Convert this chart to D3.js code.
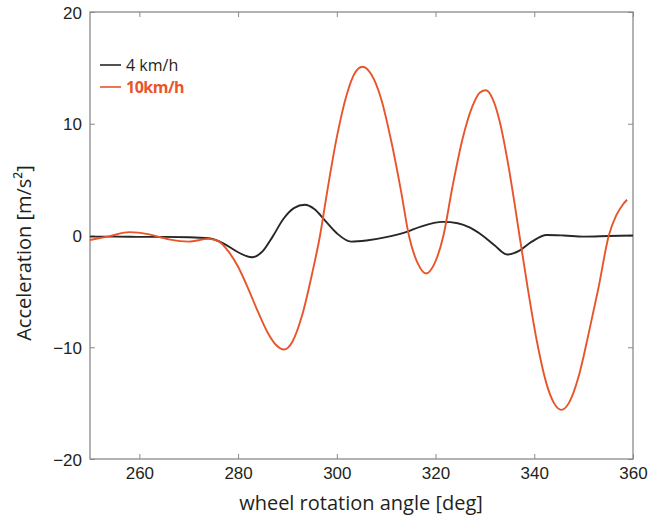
<!DOCTYPE html>
<html>
<head>
<meta charset="utf-8">
<script src="https://cdn.jsdelivr.net/npm/d3@7"></script>
<style>
  body { margin: 0; background: #fff; }
  svg { display: block; font-family: "Open Sans", sans-serif; }
  .tick text { fill: #231f20; font-size: 17px; }
  .tick line { stroke: #8a8a8a; }
</style>
</head>
<body>
<div id="chart"></div>
<script>
// wheel rotation angle [deg] / acceleration [m/s²]
const angle4 = [250, 255, 260, 265, 270, 274, 277, 280, 282.8, 285, 287, 289.2, 291.3,
  293.5, 295.5, 297.5, 300, 302.9, 306, 310, 314, 317, 321.5, 324.5, 327, 329.5,
  332, 334.5, 337, 339.5, 342.5, 346, 350, 355, 360];
const accel4 = [-0.1, -0.1, -0.12, -0.12, -0.15, -0.25, -0.7, -1.5, -1.95, -1.4, -0.1, 1.5, 2.45,
  2.75, 2.35, 1.4, 0.2, -0.55, -0.45, -0.15, 0.3, 0.8, 1.22, 1.1, 0.7, 0.0,
  -0.9, -1.7, -1.35, -0.55, 0.05, 0.0, -0.1, -0.05, 0.0];

const angle10 = [250, 254, 258, 262, 266, 270, 274, 276, 278, 280, 282, 284, 286, 287.7,
  289.3, 291, 293, 295, 296.6, 298, 300, 302, 303.6, 305.2, 307, 309, 311, 313, 314.6,
  316.4, 318.1, 319.8, 321.6, 323.4, 325.5, 327.5, 329, 330.2, 331.5, 333, 334.5, 336, 337,
  338.6, 340.5, 342.5, 344, 345.5, 347, 349, 351, 353, 355.1, 356.6, 358, 358.8];
const accel10 = [-0.4, -0.05, 0.3, 0.1, -0.35, -0.55, -0.3, -0.5, -1.4, -2.8, -4.7, -6.8, -8.7, -9.8,
  -10.2, -9.5, -7.1, -3.4, 0, 3.8, 8.8, 12.6, 14.5, 15.1, 14.4, 12.2, 8.5, 4.0, 0,
  -2.5, -3.4, -2.5, 0, 4.3, 8.7, 11.6, 12.8, 13.0, 12.3, 10.2, 6.9, 2.9, 0,
  -4.5, -9.4, -13.3, -15.0, -15.6, -15.0, -12.6, -8.8, -4.7, 0, 1.8, 2.8, 3.2];

const xTicks = [260, 280, 300, 320, 340, 360];
const yTicks = [-20, -10, 0, 10, 20];

const series = [
  { label: "4 km/h", color: "#2b2626", bold: false, x: angle4, y: accel4 },
  { label: "10km/h", color: "#e8552b", bold: true, x: angle10, y: accel10 },
];

const width = 652;
const height = 516;
const margin = { top: 12, right: 19, bottom: 57, left: 90 };

const x = d3.scaleLinear().domain([250, 360]).range([margin.left, width - margin.right]);
const y = d3.scaleLinear().domain([-20, 20]).range([height - margin.bottom, margin.top]);

const svg = d3.select("#chart").append("svg")
  .attr("width", width)
  .attr("height", height)
  .attr("viewBox", [0, 0, width, height]);

const fmt = (d) => (d < 0 ? "\u2212" + Math.abs(d) : String(d));

// inward ticks on all four sides
svg.append("g")
  .attr("transform", `translate(0,${height - margin.bottom})`)
  .call(d3.axisBottom(x).tickValues(xTicks).tickSize(-5).tickPadding(8).tickFormat(fmt))
  .call((g) => g.select(".domain").remove());

svg.append("g")
  .attr("transform", `translate(0,${margin.top})`)
  .call(d3.axisTop(x).tickValues(xTicks).tickSize(-5).tickFormat(""))
  .call((g) => g.select(".domain").remove());

svg.append("g")
  .attr("transform", `translate(${margin.left},0)`)
  .call(d3.axisLeft(y).tickValues(yTicks).tickSize(-5).tickPadding(8).tickFormat(fmt))
  .call((g) => g.select(".domain").remove())
  .call((g) => g.selectAll(".tick text").attr("dy", "0.36em"));

svg.append("g")
  .attr("transform", `translate(${width - margin.right},0)`)
  .call(d3.axisRight(y).tickValues(yTicks).tickSize(-5).tickFormat(""))
  .call((g) => g.select(".domain").remove());

svg.append("rect")
  .attr("x", margin.left)
  .attr("y", margin.top)
  .attr("width", width - margin.left - margin.right)
  .attr("height", height - margin.top - margin.bottom)
  .attr("fill", "none")
  .attr("stroke", "#8a8a8a")
  .attr("stroke-width", 1.3);

const line = d3.line()
  .x((d) => x(d[0]))
  .y((d) => y(d[1]))
  .curve(d3.curveMonotoneX);

svg.append("g")
  .selectAll("path")
  .data(series)
  .join("path")
  .attr("fill", "none")
  .attr("stroke", (d) => d.color)
  .attr("stroke-width", 1.9)
  .attr("stroke-linejoin", "round")
  .attr("d", (d) => line(d3.zip(d.x, d.y)));

// legend
const legend = svg.append("g")
  .selectAll("g")
  .data(series)
  .join("g")
  .attr("transform", (d, i) => `translate(100,${65 + i * 22})`);

legend.append("line")
  .attr("x2", 21)
  .attr("stroke", (d) => d.color)
  .attr("stroke-width", 1.6);

legend.append("text")
  .attr("x", 26)
  .attr("dy", "0.36em")
  .attr("fill", (d) => (d.bold ? d.color : "#231f20"))
  .attr("font-size", 16)
  .attr("font-weight", (d) => (d.bold ? 700 : 400))
  .attr("letter-spacing", (d) => (d.bold ? "-0.5px" : null))
  .text((d) => d.label);

// axis titles
svg.append("text")
  .attr("x", 361)
  .attr("y", 510)
  .attr("text-anchor", "middle")
  .attr("fill", "#231f20")
  .attr("font-size", 20)
  .text("wheel rotation angle [deg]");

svg.append("text")
  .attr("transform", "translate(31,253) rotate(-90)")
  .attr("text-anchor", "middle")
  .attr("fill", "#231f20")
  .attr("font-size", 20)
  .text("Acceleration [m/s²]");
</script>
</body>
</html>
